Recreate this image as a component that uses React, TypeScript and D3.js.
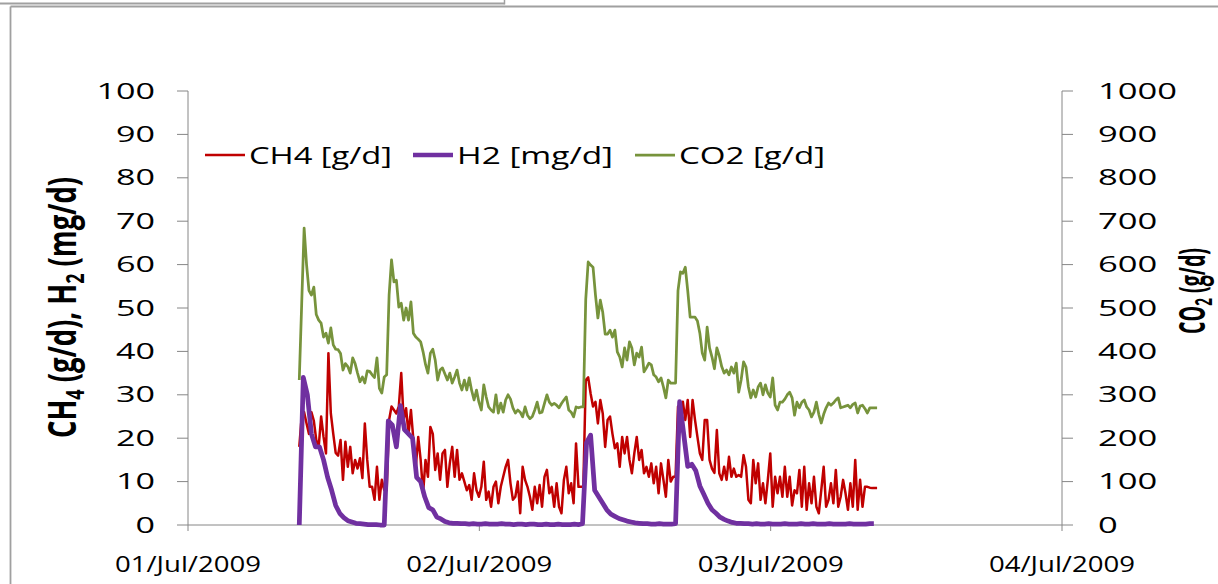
import React from "react";
import * as d3 from "d3";

// ---- data ----
// CH4 and CO2: regular 12-minute samples starting 01/Jul/2009 09:10
const startTime = new Date(2009, 6, 1, 9, 10);
const stepCh4Co2 = 12;
// H2: regular 20-minute samples starting at the same time
const stepH2 = 20;

const ch4 = [
  18, 25, 26, 23.4, 21, 26, 24, 19.6, 18, 25,
  20.3, 16.5, 39.6, 25.7, 21, 16.6, 16, 19.6, 10.4, 19.2,
  13.4, 18, 11.9, 15, 13, 15.4, 10.8, 23.4, 15, 8.8,
  8.8, 5.8, 13.4, 5.8, 10.4, 8, 8, 24.2, 27.3, 26.5,
  25.7, 27.3, 35, 24.2, 26.9, 21, 26.5, 19.6, 13.4, 20.3,
  15, 7.3, 15, 11.1, 22.6, 21, 12.7, 16.5, 10.4, 16.5,
  17.3, 8.8, 14.2, 18, 11.1, 17.3, 10.4, 11.9, 10, 8,
  9.2, 5.8, 11.9, 8, 6.5, 8.8, 14.6, 5.8, 7.7, 4.2,
  8.8, 10, 5, 8.8, 11.1, 13.4, 15, 9.6, 5.8, 6.5,
  10, 2.7, 13.4, 10.4, 8.8, 6.5, 3.5, 8.8, 5, 9.2,
  4.2, 11.1, 12.7, 7.3, 8.8, 4.2, 9.6, 4.2, 2.7, 10.4,
  13.4, 7.3, 9.6, 5, 18.8, 8.8, 8.8, 8.8, 33.4, 34,
  30.3, 27.3, 28.4, 23.4, 28.8, 25.7, 18, 24.2, 25, 21,
  17.7, 18.8, 13.4, 20.3, 16.5, 20.3, 15, 11.9, 16.5, 20.3,
  15, 17.3, 11.9, 13.4, 11.1, 14.2, 9.6, 13.4, 7.3, 14.2,
  10.4, 6.5, 15, 10, 11.1, 11.1, 27.3, 22, 28.4, 24.2,
  28.8, 20.3, 28.8, 24.2, 20.3, 16.5, 15, 24.2, 24.2, 15,
  13, 12, 21.9, 11.9, 10.4, 13.4, 10.4, 15.7, 11.1, 13,
  11.1, 11.5, 11.1, 16.1, 13.4, 5.8, 5, 15, 9.6, 14.2,
  5.8, 9.6, 5, 10.4, 16.5, 4.2, 11.1, 7.3, 11.1, 6.5,
  13.4, 6.5, 11.1, 4.5, 8, 7.3, 12.7, 4.2, 13.4, 3.5,
  9.6, 5, 11.1, 4.2, 2.7, 8, 13.4, 4.2, 5.8, 9.6,
  5, 12.7, 4.2, 6.5, 10.4, 7.3, 3.5, 9.6, 4.2, 15,
  3.5, 10.4, 4.2, 8.8, 8.8, 8.6, 8.5, 8.5, 8.5,
];

const co2 = [
  334, 510, 684, 600, 540, 530, 548, 485, 472, 465,
  433, 442, 419, 454, 415, 405, 404, 395, 357, 372,
  365, 350, 385, 372, 350, 330, 341, 327, 355, 354,
  346, 340, 385, 315, 304, 341, 346, 530, 611, 560,
  564, 502, 511, 472, 500, 472, 514, 442, 433, 428,
  422, 399, 370, 350, 396, 405, 380, 334, 357, 362,
  348, 334, 350, 327, 341, 357, 327, 311, 334, 311,
  339, 310, 288, 311, 283, 265, 323, 295, 272, 265,
  260, 300, 258, 281, 260, 288, 300, 290, 270, 258,
  265, 260, 249, 272, 253, 245, 250, 265, 283, 258,
  260, 280, 300, 283, 276, 280, 276, 270, 280, 288,
  295, 265, 260, 249, 272, 270, 272, 272, 520, 606,
  599, 594, 530, 477, 518, 490, 440, 440, 449, 433,
  449, 399, 387, 364, 408, 380, 422, 408, 369, 396,
  387, 410, 353, 362, 373, 369, 346, 341, 330, 339,
  318, 293, 334, 327, 327, 327, 540, 583, 580, 594,
  540, 479, 479, 479, 470, 442, 396, 380, 456, 408,
  387, 360, 408, 390, 365, 350, 357, 346, 364, 350,
  373, 306, 334, 376, 364, 318, 293, 311, 295, 318,
  327, 300, 323, 304, 295, 339, 276, 265, 283, 283,
  290, 300, 306, 293, 253, 283, 270, 283, 288, 272,
  265, 249, 260, 283, 255, 235, 255, 270, 281, 276,
  281, 288, 293, 270, 272, 274, 276, 270, 278, 281,
  258, 274, 276, 268, 258, 270, 270, 270, 270,
];

const h2 = [
  0, 34, 30, 21, 18, 18, 15, 11, 8, 4.5, 2.7, 1.7, 1.0, 0.7, 0.4, 0.3, 0.2, 0.1, 0.1, 0.1,
  0, 0, 24, 23, 18, 27.5, 22, 21, 20, 11, 10, 6.5, 4, 3.5, 1.8, 1.4, 0.8, 0.5, 0.4, 0.4,
  0.3, 0.3, 0.2, 0.3, 0.2, 0.2, 0.3, 0.2, 0.2, 0.2, 0.3, 0.2, 0.2, 0.1, 0.2, 0.2, 0.1, 0.2, 0.2, 0.1,
  0.1, 0.2, 0.1, 0.1, 0.2, 0.1, 0.1, 0.1, 0.2, 0.1, 0.3, 19, 20.7, 8, 6.5, 5, 3.5, 2.5, 2, 1.5,
  1.2, 0.9, 0.7, 0.5, 0.4, 0.3, 0.3, 0.2, 0.2, 0.3, 0.2, 0.2, 0.2, 0.3, 28.4, 21, 13.5, 14, 12.5, 9,
  7, 5, 3.5, 2.7, 1.8, 1.3, 0.9, 0.6, 0.4, 0.4, 0.3, 0.3, 0.2, 0.3, 0.2, 0.2, 0.3, 0.2, 0.2, 0.2,
  0.3, 0.2, 0.2, 0.2, 0.3, 0.2, 0.2, 0.3, 0.2, 0.2, 0.2, 0.3, 0.2, 0.2, 0.2, 0.2, 0.3, 0.2, 0.2, 0.2,
  0.2, 0.3, 0.3,
];

const leftTicks = [0, 10, 20, 30, 40, 50, 60, 70, 80, 90, 100];
const rightTicks = [0, 100, 200, 300, 400, 500, 600, 700, 800, 900, 1000];
const dateTicks = [new Date(2009, 6, 1), new Date(2009, 6, 2), new Date(2009, 6, 3), new Date(2009, 6, 4)];
const dateLabels = ["01/Jul/2009", "02/Jul/2009", "03/Jul/2009", "04/Jul/2009"];

const seriesNames = ["CH4 [g/d]", "H2 [mg/d]", "CO2 [g/d]"];
const seriesColors = ["#C00000", "#7030A0", "#77933C"];

export default function App() {
  const W = 1218;
  const H = 584;
  const x0 = 188;
  const x1 = 1062;
  const yTop = 91;
  const yBot = 525;

  const x = d3.scaleTime().domain([dateTicks[0], dateTicks[3]]).range([x0, x1]);
  const yL = d3.scaleLinear().domain([0, 100]).range([yBot, yTop]);
  const yR = d3.scaleLinear().domain([0, 1000]).range([yBot, yTop]);

  const tA = (i: number) => d3.timeMinute.offset(startTime, i * stepCh4Co2);
  const tH = (i: number) => d3.timeMinute.offset(startTime, i * stepH2);

  const lineCh4 = d3.line<number>().x((_, i) => x(tA(i))).y((d) => yL(d));
  const lineCo2 = d3.line<number>().x((_, i) => x(tA(i))).y((d) => yR(d));
  const lineH2 = d3.line<number>().x((_, i) => x(tH(i))).y((d) => yL(d));

  const axisColor = "#868686";
  const frameColor = "#a0a0a0";
  const digitW = 19.5;

  const legendX = [205, 413, 635];
  const legendTextW = [143, 156, 146];
  const legendW = [2.5, 4.5, 2.75];
  const legendY = 155;

  return (
    <svg
      width={W}
      height={H}
      style={{ position: "absolute", left: 0, top: 0, background: "#fff" }}
    >
      <rect x={0} y={0} width={W} height={H} fill="#fff" />
      {/* frame pieces */}
      <line x1={0} y1={3.5} x2={504.5} y2={3.5} stroke={frameColor} strokeWidth={2} />
      <line x1={504.5} y1={0} x2={504.5} y2={4.5} stroke={frameColor} strokeWidth={1.5} />
      <line x1={10.5} y1={6.5} x2={W} y2={6.5} stroke={frameColor} strokeWidth={1.8} />
      <line x1={10.5} y1={6.5} x2={10.5} y2={H} stroke={frameColor} strokeWidth={1.8} />

      {/* axes */}
      <line x1={x0} y1={yTop} x2={x0} y2={yBot} stroke={axisColor} strokeWidth={1} />
      <line x1={x1} y1={yTop} x2={x1} y2={yBot} stroke={axisColor} strokeWidth={1} />
      <line x1={x0} y1={yBot} x2={x1} y2={yBot} stroke={axisColor} strokeWidth={1} />
      {leftTicks.map((t) => (
        <g key={"l" + t}>
          <line x1={x0 - 11} x2={x0} y1={yL(t)} y2={yL(t)} stroke={axisColor} />
          <text
            x={155}
            y={yL(t)}
            dy="0.36em"
            textAnchor="end"
            fontFamily="'Open Sans', sans-serif"
            fontSize={21}
            fill="#000"
            textLength={String(t).length * digitW}
            lengthAdjust="spacingAndGlyphs"
          >
            {t}
          </text>
        </g>
      ))}
      {rightTicks.map((t) => (
        <g key={"r" + t}>
          <line x1={x1} x2={x1 + 11} y1={yR(t)} y2={yR(t)} stroke={axisColor} />
          <text
            x={1098}
            y={yR(t)}
            dy="0.36em"
            textAnchor="start"
            fontFamily="'Open Sans', sans-serif"
            fontSize={21}
            fill="#000"
            textLength={String(t).length * 19.75}
            lengthAdjust="spacingAndGlyphs"
          >
            {t}
          </text>
        </g>
      ))}
      {dateTicks.map((d, i) => (
        <g key={"d" + i}>
          <line x1={x(d)} x2={x(d)} y1={yBot} y2={yBot + 6} stroke={axisColor} />
          <text
            x={x(d)}
            y={564}
            dy="0.36em"
            textAnchor="middle"
            fontFamily="'Open Sans', sans-serif"
            fontSize={22}
            fill="#000"
            textLength={146}
            lengthAdjust="spacingAndGlyphs"
          >
            {dateLabels[i]}
          </text>
        </g>
      ))}

      {/* axis titles */}
      <text
        transform="translate(62,307.5) scale(1.5,1) rotate(-90)"
        textAnchor="middle"
        dy="0.36em"
        fontFamily="'Open Sans', sans-serif"
        fontWeight="bold"
        fontSize={26}
        fill="#000"
        textLength={261}
        lengthAdjust="spacingAndGlyphs"
      >
        CH
        <tspan fontSize={17} dy={5}>4</tspan>
        <tspan dy={-5}> (g/d), H</tspan>
        <tspan fontSize={17} dy={5}>2</tspan>
        <tspan dy={-5}> (mg/d)</tspan>
      </text>
      <text
        transform="translate(1194,291) scale(1.4,1) rotate(-90)"
        textAnchor="middle"
        dy="0.32em"
        fontFamily="'Open Sans', sans-serif"
        fontWeight="bold"
        fontSize={25}
        fill="#000"
        textLength={86}
        lengthAdjust="spacingAndGlyphs"
      >
        CO
        <tspan fontSize={17} dy={5}>2</tspan>
        <tspan dy={-5}> (g/d)</tspan>
      </text>

      {/* series */}
      <path
        d={lineCh4(ch4) || ""}
        fill="none"
        stroke={seriesColors[0]}
        strokeWidth={2.5}
        strokeLinejoin="round"
      />
      <path
        d={lineH2(h2) || ""}
        fill="none"
        stroke={seriesColors[1]}
        strokeWidth={4.75}
        strokeLinejoin="round"
      />
      <path
        d={lineCo2(co2) || ""}
        fill="none"
        stroke={seriesColors[2]}
        strokeWidth={2.75}
        strokeLinejoin="round"
      />

      {/* legend */}
      {seriesNames.map((n, i) => (
        <g key={n}>
          <line
            x1={legendX[i]}
            x2={legendX[i] + 40}
            y1={legendY}
            y2={legendY}
            stroke={seriesColors[i]}
            strokeWidth={legendW[i]}
          />
          <text
            x={legendX[i] + 44}
            y={legendY}
            dy="0.36em"
            fontFamily="'Open Sans', sans-serif"
            fontSize={24}
            fill="#000"
            textLength={legendTextW[i]}
            lengthAdjust="spacingAndGlyphs"
          >
            {n}
          </text>
        </g>
      ))}
    </svg>
  );
}
